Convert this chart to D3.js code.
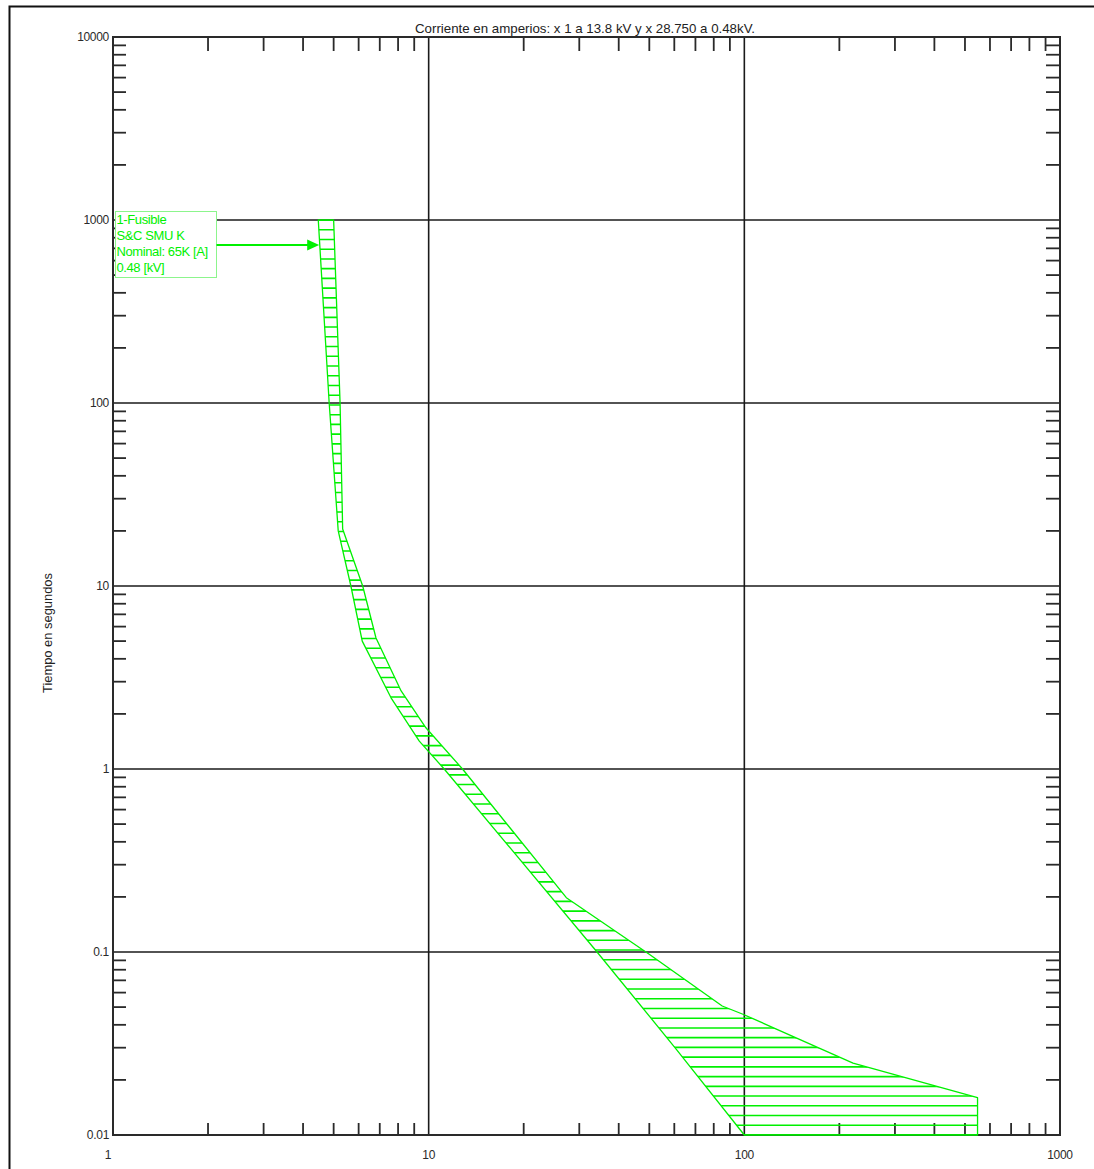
<!DOCTYPE html>
<html>
<head>
<meta charset="utf-8">
<script src="https://cdn.jsdelivr.net/npm/d3@7"></script>
<style>
  body { margin: 0; background: #fff; }
  svg { display: block; font-family: "Liberation Sans", Arial, sans-serif; }
</style>
</head>
<body>
<div id="tcc"></div>
<script>
// Axis ticks and labels
const xMajor = [1, 10, 100, 1000];
const xMajorLabels = ["1", "10", "100", "1000"];
const yMajor = [0.01, 0.1, 1, 10, 100, 1000, 10000];
const yMajorLabels = ["0.01", "0.1", "1", "10", "100", "1000", "10000"];

// Fuse band: minimum melting curve (left) and total clearing curve (right)
const meltI = [4.47, 4.84, 5.17, 5.67, 6.16, 7.6, 9.34, 11.2, 34, 60.9, 100];
const meltT = [1000, 100, 20, 10, 5.0, 2.45, 1.42, 1.0, 0.101, 0.0294, 0.01];
const clearI = [5.0, 5.24, 5.34, 6.18, 6.81, 8.18, 9.8, 12.8, 27.3, 50.1, 85.1, 99, 221, 548, 548];
const clearT = [1000, 100, 20.5, 10, 5.2, 2.67, 1.68, 1.0, 0.198, 0.097, 0.0507, 0.0457, 0.0247, 0.016, 0.01];

// Label of the device and where its arrow points
const labelLines = ["1-Fusible", "S&C SMU K", "Nominal: 65K [A]", "0.48 [kV]"];
const arrowAt = [4.5, 730];

const titleText = "Corriente en amperios: x 1 a 13.8 kV y x 28.750 a 0.48kV.";
const yTitle = "Tiempo en segundos";

const W = 1094, H = 1169;
const green = "#00f000";

const svg = d3.select("#tcc")
  .append("svg")
    .attr("width", W)
    .attr("height", H);

// outer page frame
svg.append("rect")
  .attr("x", 9.5).attr("y", 6.5)
  .attr("width", 1200).attr("height", 1300)
  .attr("fill", "none")
  .attr("stroke", "#111")
  .attr("stroke-width", 2);

const x = d3.scaleLog().domain([1, 1000]).range([113, 1060]);
const y = d3.scaleLog().domain([0.01, 10000]).range([1135, 37]);

// minor ticks: 2..9 in every decade
const minor = (lo, hi) => {
  const out = [];
  for (let p = lo; p < hi; p++)
    for (let k = 2; k <= 9; k++) out.push(k * Math.pow(10, p));
  return out;
};
const xMinor = minor(0, 3);
const yMinor = minor(-2, 4);

// gridlines at decades
const grid = svg.append("g")
  .attr("stroke", "#1a1a1a")
  .attr("stroke-width", 1.6);
grid.selectAll(".gx")
  .data(xMajor.slice(1, -1))
  .join("line")
    .attr("class", "gx")
    .attr("x1", d => x(d)).attr("x2", d => x(d))
    .attr("y1", y(10000)).attr("y2", y(0.01));
grid.selectAll(".gy")
  .data(yMajor.slice(1, -1))
  .join("line")
    .attr("class", "gy")
    .attr("x1", x(1)).attr("x2", x(1000))
    .attr("y1", d => y(d)).attr("y2", d => y(d));

// inward tick marks on the four sides
const ticks = svg.append("g")
  .attr("stroke", "#2a2a2a")
  .attr("stroke-width", 1.8);
ticks.selectAll(".tt")
  .data(xMinor)
  .join("line")
    .attr("x1", d => x(d)).attr("x2", d => x(d))
    .attr("y1", y(10000)).attr("y2", y(10000) + 14);
ticks.selectAll(".tb")
  .data(xMinor)
  .join("line")
    .attr("x1", d => x(d)).attr("x2", d => x(d))
    .attr("y1", y(0.01)).attr("y2", y(0.01) - 12);
ticks.selectAll(".tl")
  .data(yMinor)
  .join("line")
    .attr("x1", x(1)).attr("x2", x(1) + 13)
    .attr("y1", d => y(d)).attr("y2", d => y(d));
ticks.selectAll(".tr")
  .data(yMinor)
  .join("line")
    .attr("x1", x(1000)).attr("x2", x(1000) - 14)
    .attr("y1", d => y(d)).attr("y2", d => y(d));

// plot frame
svg.append("rect")
  .attr("x", x(1)).attr("y", y(10000))
  .attr("width", x(1000) - x(1))
  .attr("height", y(0.01) - y(10000))
  .attr("fill", "none")
  .attr("stroke", "#2a2a2a")
  .attr("stroke-width", 2);

// tick labels
svg.append("g")
  .selectAll("text")
  .data(yMajor)
  .join("text")
    .attr("x", x(1) - 4)
    .attr("y", d => y(d))
    .attr("dy", "0.35em")
    .attr("text-anchor", "end")
    .attr("font-size", 12)
    .attr("letter-spacing", -0.3)
    .attr("fill", "#2a2a2a")
    .text((d, i) => yMajorLabels[i]);
svg.append("g")
  .selectAll("text")
  .data(xMajor)
  .join("text")
    .attr("x", (d, i) => x(d) - (i === 0 ? 5 : 0))
    .attr("y", 1159)
    .attr("text-anchor", "middle")
    .attr("font-size", 12)
    .attr("letter-spacing", -0.3)
    .attr("fill", "#2a2a2a")
    .text((d, i) => xMajorLabels[i]);

// titles
svg.append("text")
  .attr("x", 585)
  .attr("y", 33)
  .attr("text-anchor", "middle")
  .attr("font-size", 13)
  .attr("textLength", 340)
  .attr("lengthAdjust", "spacingAndGlyphs")
  .attr("fill", "#222")
  .text(titleText);
svg.append("text")
  .attr("transform", "translate(52,633) rotate(-90)")
  .attr("text-anchor", "middle")
  .attr("font-size", 13)
  .attr("textLength", 120)
  .attr("lengthAdjust", "spacingAndGlyphs")
  .attr("fill", "#222")
  .text(yTitle);

// fuse band polygon
const melt = meltI.map((d, i) => [x(d), y(meltT[i])]);
const clear = clearI.map((d, i) => [x(d), y(clearT[i])]);
const band = melt.concat(clear.slice().reverse());

svg.append("clipPath")
  .attr("id", "bandClip")
  .append("polygon")
    .attr("points", band.map(p => p.join(",")).join(" "));

// horizontal hatch, 94 steps between 0.01 s and 1000 s
const yTop = y(1000), yBot = y(0.01);
const nHatch = 94;
const hatchY = d3.range(nHatch + 1).map(i => yBot - i * (yBot - yTop) / nHatch);
svg.append("g")
  .attr("clip-path", "url(#bandClip)")
  .selectAll("line")
  .data(hatchY)
  .join("line")
    .attr("x1", x(1)).attr("x2", x(1000))
    .attr("y1", d => d).attr("y2", d => d)
    .attr("stroke", green)
    .attr("stroke-width", 1.6);

svg.append("polygon")
  .attr("points", band.map(p => p.join(",")).join(" "))
  .attr("fill", "none")
  .attr("stroke", green)
  .attr("stroke-width", 1.3)
  .attr("stroke-linejoin", "round");

// device label box
const box = svg.append("g");
box.append("rect")
  .attr("x", 115.5).attr("y", 211.5)
  .attr("width", 101).attr("height", 66)
  .attr("fill", "#fff")
  .attr("stroke", "#8cf58c")
  .attr("stroke-width", 1);
box.selectAll("text")
  .data(labelLines)
  .join("text")
    .attr("x", 116.5)
    .attr("y", (d, i) => 224 + i * 16)
    .attr("font-size", 13)
    .attr("letter-spacing", -0.4)
    .attr("fill", green)
    .text(d => d);

// arrow to the curve
const ax = x(arrowAt[0]), ay = y(arrowAt[1]);
svg.append("line")
  .attr("x1", 216.5).attr("x2", ax - 8)
  .attr("y1", ay).attr("y2", ay)
  .attr("stroke", green)
  .attr("stroke-width", 2);
svg.append("path")
  .attr("d", `M${ax},${ay} L${ax - 12},${ay - 5.5} L${ax - 12},${ay + 5.5} Z`)
  .attr("fill", green);
</script>
</body>
</html>
